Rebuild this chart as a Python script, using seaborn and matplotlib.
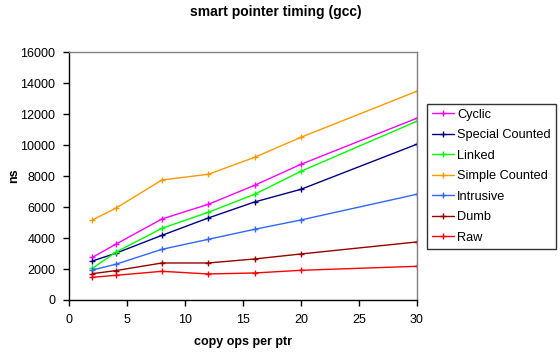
import matplotlib
matplotlib.use("Agg")
import matplotlib.pyplot as plt
import seaborn as sns
import pandas as pd

x_ops = [2, 4, 8, 12, 16, 20, 30]
cyclic = [2756, 3596, 5233, 6180, 7407, 8764, 11736]
special_counted = [2519, 3015, 4177, 5297, 6331, 7149, 10056]
linked = [2046, 3079, 4630, 5663, 6826, 8312, 11542]
simple_counted = [5168, 5922, 7752, 8118, 9216, 10508, 13480]
intrusive = [1938, 2304, 3273, 3919, 4565, 5168, 6826]
dumb = [1701, 1895, 2390, 2390, 2649, 2972, 3747]
raw = [1464, 1593, 1852, 1680, 1744, 1916, 2175]

series_names = ["Cyclic", "Special Counted", "Linked", "Simple Counted",
                "Intrusive", "Dumb", "Raw"]
series_vals = [cyclic, special_counted, linked, simple_counted,
               intrusive, dumb, raw]
colors = ["#FF00FF", "#000080", "#00FF00", "#FF9900", "#3366FF", "#990000", "#FF0000"]

rows = []
for name, vals in zip(series_names, series_vals):
    for xv, yv in zip(x_ops, vals):
        rows.append({"ops": xv, "ns": yv, "series": name})
df = pd.DataFrame(rows)

sns.set_theme(style="white")
plt.rcParams['font.family'] = ['Liberation Sans', 'DejaVu Sans']
plt.rcParams.update({"text.color": "black", "axes.labelcolor": "black",
                     "xtick.color": "black", "ytick.color": "black"})

fig = plt.figure(figsize=(5.6, 3.55), dpi=100)
ax = fig.add_axes([0.1238, 0.155, 0.7441 - 0.1238, 0.8527 - 0.155])

sns.lineplot(data=df, x="ops", y="ns", hue="series", hue_order=series_names,
             palette=dict(zip(series_names, colors)), marker="+", markersize=5,
             linewidth=1.0, ax=ax, legend=True)
for ln in ax.get_lines():
    ln.set_markeredgecolor(ln.get_color())
    ln.set_markeredgewidth(1.0)

ax.set_xlim(0, 30)
ax.set_ylim(0, 16000)
ax.set_xticks([0, 5, 10, 15, 20, 25, 30])
ax.set_yticks(range(0, 16001, 2000))
ax.tick_params(axis="both", which="both", direction="out", length=4, width=1,
               color="black", labelcolor="black", labelsize=9,
               bottom=True, left=True, pad=6)
for s in ["left", "bottom"]:
    ax.spines[s].set_color("black")
    ax.spines[s].set_linewidth(1)
for s in ["top", "right"]:
    ax.spines[s].set_color("#808080")
    ax.spines[s].set_linewidth(1)
ax.grid(False)

ax.set_xlabel("copy ops per ptr", fontsize=9, fontweight="bold", color="black")
ax.xaxis.set_label_coords(0.5, -0.147)
ax.set_ylabel("ns", fontsize=9, fontweight="bold", color="black")
ax.yaxis.set_label_coords(-0.143, 0.5)
fig.suptitle("smart pointer timing (gcc)", fontsize=10, fontweight="bold",
             x=0.493, y=0.987, color="black")

handles, labels = ax.get_legend_handles_labels()
for h in handles:
    h.set_markeredgecolor(h.get_color())
leg = ax.legend(handles, labels, loc="upper left", bbox_to_anchor=(1.0297, 0.792),
                frameon=True, fancybox=False, fontsize=9.2, handlelength=1.7,
                handletextpad=0.25, labelspacing=0.66, borderpad=0.4,
                borderaxespad=0, labelcolor="black")
leg.get_frame().set_edgecolor("black")
leg.get_frame().set_linewidth(1)

fig.savefig("out.png", dpi=100)
